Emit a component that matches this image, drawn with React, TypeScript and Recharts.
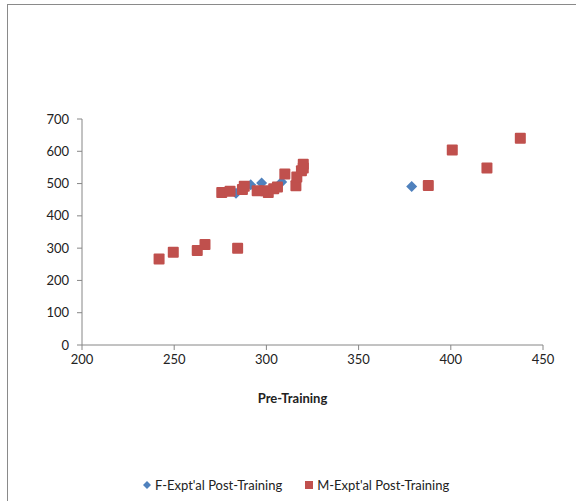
import { ScatterChart, Scatter, XAxis, YAxis, Legend } from 'recharts'

// pre-training score vs post-training score
const femalePre = [283.5, 291.5, 297.4, 308.3, 378.8]
const femalePost = [470, 496, 502, 505, 491]

const malePre = [
  241.8, 249.5, 262.5, 266.7, 284.4,
  275.8, 280.3, 287, 288, 295, 299.5, 301, 304, 306,
  310, 316, 316.5, 319, 320, 320,
  387.8, 400.8, 419.6, 437.7,
]
const malePost = [
  266, 287, 293, 311, 300,
  472, 476, 482, 492, 478, 478, 472, 484, 489,
  530, 493, 520, 540, 548, 560,
  494, 604, 548, 640,
]

const xTicks = [200, 250, 300, 350, 400, 450]
const yTicks = [0, 100, 200, 300, 400, 500, 600, 700]

const BLUE = '#4F81BD'
const RED = '#C0504D'
const FONT = 'Lato, "Open Sans", sans-serif'

const femaleData = femalePre.map((x, i) => ({ x, y: femalePost[i] }))
const maleData = malePre.map((x, i) => ({ x, y: malePost[i] }))

function Diamond(props: any) {
  const { cx, cy } = props
  const r = 5.5
  return <polygon points={`${cx},${cy - r} ${cx + r},${cy} ${cx},${cy + r} ${cx - r},${cy}`} fill={BLUE} />
}

function Square(props: any) {
  const { cx, cy } = props
  return <rect x={cx - 5.5} y={cy - 5.5} width={11} height={11} rx={1} fill={RED} />
}

function LegendBox() {
  return (
    <div style={{ display: 'flex', justifyContent: 'flex-start', fontFamily: FONT, fontSize: 13, color: '#222', paddingLeft: 142 }}>
      <span style={{ display: 'flex', alignItems: 'center' }}>
        <svg width={10} height={10} style={{ marginRight: 3 }}>
          <polygon points="5,1 9,5 5,9 1,5" fill={BLUE} />
        </svg>
        F-Expt'al Post-Training
      </span>
      <span style={{ display: 'flex', alignItems: 'center', marginLeft: 22 }}>
        <svg width={10} height={10} style={{ marginRight: 3 }}>
          <rect x={1} y={1} width={8} height={8} fill={RED} />
        </svg>
        M-Expt'al Post-Training
      </span>
    </div>
  )
}

export default function App() {
  return (
    <div style={{ position: 'absolute', left: 0, top: 0, width: 576, height: 501, background: '#fff', overflow: 'hidden' }}>
      <div style={{ position: 'absolute', left: 7, top: 4, width: 600, height: 520, borderLeft: '1px solid #8a8a8a', borderTop: '1px solid #8a8a8a' }} />
      <ScatterChart width={576} height={501} margin={{ top: 119, right: 33, bottom: 110, left: 0 }}>
        <XAxis
          type="number"
          dataKey="x"
          domain={[200, 450]}
          ticks={xTicks}
          axisLine={{ stroke: '#868686' }}
          tickLine={{ stroke: '#868686' }}
          tickSize={5}
          tickMargin={5}
          tick={{ fontSize: 13, fill: '#222', fontFamily: FONT }}
          height={30}
          label={{ value: 'Pre-Training', position: 'bottom', dx: -20, dy: 14, style: { fontSize: 13, fontWeight: 700, fill: '#222', fontFamily: FONT } }}
        />
        <YAxis
          type="number"
          dataKey="y"
          domain={[0, 700]}
          ticks={yTicks}
          width={82}
          axisLine={{ stroke: '#868686' }}
          tickLine={{ stroke: '#868686' }}
          tickSize={5}
          tickMargin={8}
          tick={{ fontSize: 13, fill: '#222', fontFamily: FONT }}
        />
        <Legend verticalAlign="bottom" content={<LegendBox />} wrapperStyle={{ bottom: 8 }} />
        <Scatter name="F-Expt'al Post-Training" data={femaleData} shape={<Diamond />} isAnimationActive={false} />
        <Scatter name="M-Expt'al Post-Training" data={maleData} shape={<Square />} isAnimationActive={false} />
      </ScatterChart>
    </div>
  )
}
